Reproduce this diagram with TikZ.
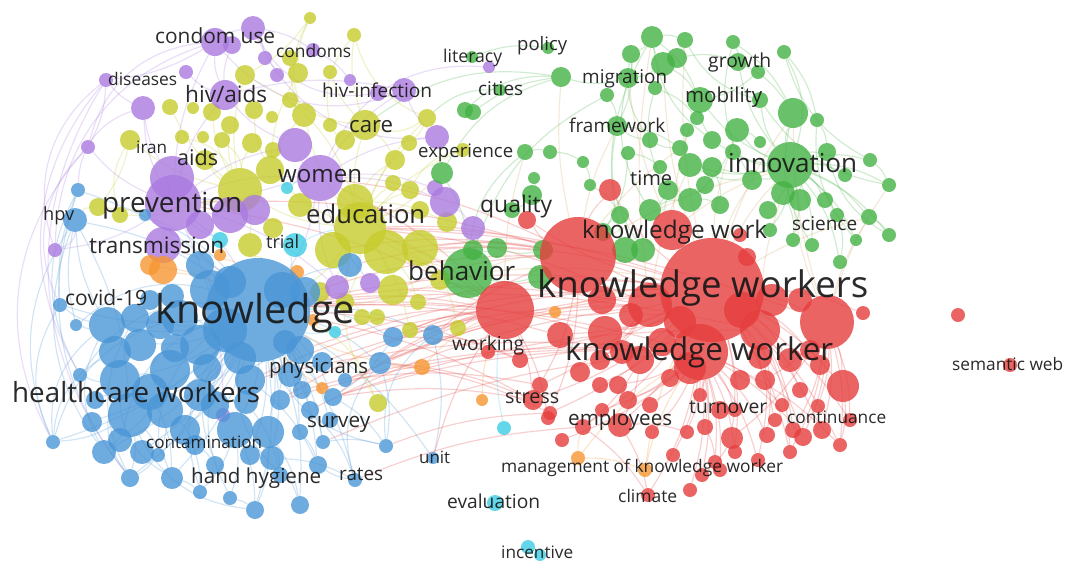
\documentclass[tikz,border=0pt]{standalone}
\usepackage{fontspec}
\setmainfont{Open Sans}
\usepackage{graphicx}
\pgfdeclarelayer{bg}
\pgfdeclarelayer{edges}
\pgfsetlayers{bg,edges,main}
\definecolor{colR}{RGB}{230,62,62}
\definecolor{colG}{RGB}{68,178,68}
\definecolor{colB}{RGB}{74,150,214}
\definecolor{colY}{RGB}{198,204,44}
\definecolor{colP}{RGB}{170,122,224}
\definecolor{colO}{RGB}{246,150,50}
\definecolor{colC}{RGB}{60,204,228}
\definecolor{colM}{RGB}{214,168,104}
\definecolor{lbc}{RGB}{24,24,24}
\tikzset{
  bub/.style={circle, inner sep=0pt, draw=none, fill opacity=0.8},
  edg/.style={line width=1.15pt, draw opacity=0.25},
  lab/.style={inner sep=0pt, text=lbc, text opacity=0.92},
}
\newcommand{\kwlabel}[5]{\node[lab,anchor=base west] (#1) at (#2,#3) {\resizebox{#4pt}{!}{#5}};}
\begin{document}
\begin{tikzpicture}[x=1pt,y=-1pt]
\begin{pgfonlayer}{bg}
\fill[white] (0,0) rectangle (1065,563);
\end{pgfonlayer}
\useasboundingbox (0,0) rectangle (1065,563);
% ---------- yellow
\foreach \n/\x/\y/\r in {ED/360/228/26,y1/310/18/6,y2/354/35/7,y3/245/75/10,y4/298/73/10,y5/330/72/7,y6/290/58/8,y7/170/107/8,y8/193/108/6,y9/212/112/9,y10/254/110/9,y11/272/117/6,y12/304/115/12,y13/330/125/7,y14/365/125/15,y15/345/140/10,y16/427/118/9,y17/130/140/10,y18/182/137/7,y19/203/137/6,y20/222/140/8,y21/252/143/10,y22/273/150/8,y23/409/143/8,y24/463/150/7,y25/240/190/22,y26/270/170/14,y27/355/202/18,y28/410/190/9,y29/393/183/8,y30/386/252/22,y31/420/248/18,y32/333/250/18,y33/250/245/12,y34/273/228/10,y35/120/215/8,y36/98/207/9,y37/393/290/15,y38/362/317/8,y39/377/317/8,y40/418/302/8,y41/458/328/8,y42/447/222/10,y43/378/403/9,y44/395/160/10,y45/300/205/12,y46/440/280/10,y47/320/292/10,y48/345/302/9,y49/410/330/8,y50/290/100/8,y51/205/160/10,y52/230/125/9,y53/420/210/9}
  {\pgfmathsetmacro{\d}{2*\r}\node[bub,fill=colY,minimum size=\d pt] (\n) at (\x,\y) {};}
% ---------- purple
\foreach \n/\x/\y/\r in {PR/173/203/28,WO/320/178/23,p1/215/42/14,p2/253/28/12,p3/232/45/9,p4/265/58/7,p5/277/75/7,p6/313/50/7,p7/186/72/7,p8/106/80/7,p9/143/108/12,p10/225/95/15,p11/350/80/6,p12/404/90/12,p13/378/93/8,p14/88/147/7,p15/295/145/17,p16/437/137/12,p17/172/178/22,p18/230/215/18,p19/255/210/15,p20/445/202/15,p21/435/188/8,p22/473/228/12,p23/163/245/18,p24/55/250/7,p25/337/287/12,p26/370/283/10,p27/223/415/7,p28/489/67/6,p29/200/225/14}
  {\pgfmathsetmacro{\d}{2*\r}\node[bub,fill=colP,minimum size=\d pt] (\n) at (\x,\y) {};}
% ---------- green
\foreach \n/\x/\y/\r in {BH/468/273/25,IN/790/165/23,g1/652/37/11,g2/685/40/8,g3/733/42/7,g4/784/52/7,g5/631/54/9,g6/663/64/12,g7/677/58/10,g8/738/62/9,g9/758/72/7,g10/628/78/10,g11/561/77/10,g12/607/95/7,g13/655/88/7,g14/700/100/13,g15/793/113/15,g16/817/120/7,g17/473/112/8,g18/548/48/6,g19/472/57/6,g20/500/90/6,g21/617/126/10,g22/697/118/7,g23/687/130/7,g24/737/130/12,g25/760/142/6,g26/733/152/8,g27/680/148/8,g28/525/152/8,g29/550/152/7,g30/583/162/6,g31/628/153/7,g32/690/165/12,g33/712/167/10,g34/660/167/7,g35/534/178/6,g36/590/185/6,g37/442/173/11,g38/827/152/9,g39/889/185/7,g40/783/193/12,g41/800/200/11,g42/825/200/8,g43/768/210/9,g44/793/240/7,g45/837/215/7,g46/869/217/8,g47/889/235/7,g48/856/240/6,g49/770/230/7,g50/650/210/11,g51/620/215/9,g52/690/200/12,g53/720/205/9,g54/532/195/10,g55/512/210/8,g56/625/250/13,g57/543/250/10,g58/497/248/10,g59/473/250/10,g60/540/277/12,g61/643/250/12,g62/465/110/8,g64/845/175/7,g65/812/245/7,g66/752/180/10,g67/712/140/9,g68/760/100/8,g69/650/140/8,g70/840/262/7,g71/870/160/7,g72/603/232/9,g73/668/190/10,g74/705/185/9}
  {\pgfmathsetmacro{\d}{2*\r}\node[bub,fill=colG,minimum size=\d pt] (\n) at (\x,\y) {};}
% ---------- orange
\foreach \n/\x/\y/\r in {o11/150/265/10,o1/163/270/14,o2/220/255/6,o3/297/272/7,o4/313/320/6,o5/322/388/6,o6/422/367/8,o7/482/400/6,o8/555/312/6,o9/578/458/7,o10/645/470/7}
  {\pgfmathsetmacro{\d}{2*\r}\node[bub,fill=colO,minimum size=\d pt] (\n) at (\x,\y) {};}
% ---------- cyan
\foreach \n/\x/\y/\r in {c1/287/188/6,c2/295/245/12,c3/220/240/8,c4/335/332/6,c5/504/428/7,c6/495/503/8,c7/528/547/7,c8/540/555/6}
  {\pgfmathsetmacro{\d}{2*\r}\node[bub,fill=colC,minimum size=\d pt] (\n) at (\x,\y) {};}
% ---------- blue
\foreach \n/\x/\y/\r in {KN/258/310/52,b1/200/265/14,b2/210/290/20,b3/180/318/18,b4/225/330/22,b5/200/345/20,b6/107/325/18,b7/135/318/14,b8/140/345/16,b9/170/370/20,b10/120/380/20,b11/130/415/22,b12/165/410/18,b13/200/395/16,b14/250/380/15,b15/280/400/10,b16/310/410/9,b17/235/430/18,b18/268/432/16,b19/272/458/12,b20/300/432/8,b21/323/442/7,b22/333/397/9,b23/345/380/7,b24/380/363/11,b25/393/337/10,b26/433/335/10,b27/386/446/7,b28/130/478/9,b29/172/478/11,b30/200/492/7,b31/230/498/7,b32/255/510/9,b33/300/505/9,b34/280/475/8,b35/318/465/9,b36/355/480/7,b37/158/455/7,b38/60/305/7,b39/76/325/6,b40/80/375/7,b41/53/442/7,b42/78/190/7,b43/75/220/12,b44/145/215/6,b45/350/265/12,b46/433/458/6,b47/120/440/12,b48/195/445/10,b49/215/465/9,b50/95/400/9,b51/300/350/14,b52/290/375/12,b53/150/300/10,b54/250/455/10,b55/115/352/16,b56/150/392/18,b57/185/430/15,b58/215/405/14,b59/240/358/16,b60/285/342/12,b61/322/362/10,b62/92/422/10,b63/104/452/12,b64/142/452/12,b65/175/348/14,b66/246/402/12,b67/302/390/9,b68/330/420/8,b69/207/368/14,b70/172/296/12,b71/230/282/16,b72/305/292/15,b73/282/290/18,b74/160/325/14}
  {\pgfmathsetmacro{\d}{2*\r}\node[bub,fill=colB,minimum size=\d pt] (\n) at (\x,\y) {};}
% ---------- red
\foreach \n/\x/\y/\r in {KWS/712/290/52,R2/578/255/38,R3/505/310/29,R4/827/322/27,R5/700/352/28,R6/650/305/22,R7/760/330/20,R8/672/230/20,r1/610/190/11,r2/527/220/9,r3/747/257/9,r4/740/235/7,r5/863/313/7,r6/560/335/13,r7/605/333/17,r8/631/315/12,r9/600/385/8,r10/618/385/9,r11/628/400/9,r12/550/413/7,r13/583/427/8,r14/620/425/12,r15/650/405/8,r16/670/378/9,r17/700/395/7,r18/705/427/8,r19/687/432/7,r20/732/438/11,r21/735/410/7,r22/765/380/10,r23/767/435/8,r24/782/405/7,r25/793/430/8,r26/803/437/9,r27/818/406/7,r28/843/386/16,r29/840/445/7,r30/790/452/7,r31/758/460/7,r32/735/452/7,r33/715/462/7,r34/702/475/7,r35/648/495/7,r36/533/400/10,r37/548/418/7,r38/488/352/7,r39/520/360/8,r40/958/315/7,r41/1010/365/7,r42/640/360/14,r43/790/360/12,r44/810/350/10,r45/740/380/10,r46/600/360/10,r47/720/470/7,r48/680/322/16,r49/742/310/18,r50/602/300/14,r51/772/300/16,r52/622/352/12,r53/760/357/12,r54/662/342/14,r55/720/410/9,r56/690/368/16,r57/580/372/10,r58/800/390/8,r59/652/432/7,r60/822/430/9,r61/775/420/7,r62/850/420/7,r63/602/410/7,r64/540/385/8,r65/562/440/7,r66/673/455/7,r67/690/490/7,r68/800/300/12,r69/820/365/10}
  {\pgfmathsetmacro{\d}{2*\r}\node[bub,fill=colR,minimum size=\d pt] (\n) at (\x,\y) {};}
% ---------- edges
\begin{pgfonlayer}{edges}
\foreach \a/\b in {KN/b1,KN/b2,KN/b3,KN/b4,KN/b5,KN/b6,KN/b7,KN/b8,KN/b9,KN/b10,KN/b11,KN/b12,KN/b13,KN/b14,KN/b15,KN/b16,KN/b17,KN/b18,KN/b19,KN/b20,KN/b21,KN/b22,KN/b24,KN/b25,KN/b26,KN/b28,KN/b29,KN/b32,KN/b33,KN/b35,KN/b36,KN/b38,KN/b41,KN/b45,KN/b46,KN/b51,KN/b52,b11/b28,b11/b41,b11/b29,b10/b40,b10/b50,b6/b38,b6/b39,b17/b30,b17/b31,b18/b32,b18/b34,b19/b33,b14/b35,b13/b37,b12/b48,b48/b49,b29/b30,b37/b28,b31/b32,b36/b35,b21/b27,b16/b36,b9/b47,b43/b11,b42/KN,b43/KN,b44/KN,KN/b62,KN/b63,KN/b64,KN/b54,KN/b57,KN/b68,b11/b63,b56/b29,b57/b30,b12/b37,b17/b32,b18/b33,b66/b34,b19/b36,b20/b35,b16/b21,b22/b27,b24/b27,b25/b22,b26/b46,b38/b42,b39/b43,b6/b43}
  \draw[edg,colB] (\a) to[bend left=12] (\b);
\foreach \a/\b in {b43/b41,b42/b40,b6/b41,KN/b27,KN/b30,KN/b31,KN/b34,KN/b37,KN/b47,KN/b49,b11/b32,b10/b29,b24/b36,b26/b27,b42/b28,b43/b63,b38/b41,b10/b28,b55/b41,b6/b63,KN/b40,KN/b39,b3/b41,b7/b28}
  \draw[edg,colB] (\a) to[bend right=28] (\b);
\foreach \a/\b in {KWS/R2,KWS/R3,KWS/R4,KWS/R5,KWS/R6,KWS/R7,KWS/R8,KWS/r1,KWS/r2,KWS/r3,KWS/r5,KWS/r6,KWS/r7,KWS/r8,KWS/r9,KWS/r12,KWS/r13,KWS/r14,KWS/r20,KWS/r22,KWS/r26,KWS/r28,KWS/r36,KWS/r38,KWS/r39,KWS/r42,KWS/r43,KWS/r44,R5/r10,R5/r11,R5/r15,R5/r16,R5/r17,R5/r18,R5/r19,R5/r21,R5/r23,R5/r24,R5/r31,R5/r32,R5/r33,R5/r34,R5/r35,R5/r47,R4/r22,R4/r25,R4/r26,R4/r27,R4/r28,R4/r29,R4/r30,R7/r23,R7/r25,R3/r36,R3/r37,R3/r38,R2/r1,R2/r2,R6/r46,r13/r35,r14/r35,R5/r59,R5/r63,R5/r65,R5/r66,R5/r67,KWS/r60,KWS/r62,KWS/r61,R4/r60,R4/r62,R7/r58,R7/r30,R7/r31,R6/r57,R6/r64,r42/r13,r42/r14,R2/r64,R2/r12,KWS/r29,KWS/r30,KWS/r32,R5/r29,R5/r26,R4/r20,r28/r29,r20/r34,r14/r19,r18/r33}
  \draw[edg,colR] (\a) to[bend left=10] (\b);
\foreach \a/\b in {KWS/KN,R3/KN,R2/KN,R3/ED,R2/ED,KWS/ED,R3/b25,R3/b26,R3/y41,R3/b24,R6/KN,R5/KN,R3/PR,R2/WO,R3/b14,R3/b22,R7/KN,R2/y31,R3/b46,r36/KN,r36/b24,R5/b22,KWS/b51,R6/b16,R5/b21,R2/y30,R3/y37,KWS/y40,R6/ED,r39/b26,r12/b27,r13/b36,KWS/b23,KWS/b24,KWS/b25,R2/b26,R5/b14,R5/b15,R7/b22,R6/b24,R3/b15,r6/KN,r7/KN,r36/b22,r38/b25,R4/ED,R2/y37,R3/y30,KWS/y31,r12/b24,r39/KN,R3/WO,R2/PR,R3/y46,R3/y49,R2/b45,R6/b61,R5/b67,r64/b23,R3/c4,R2/y32}
  \draw[edg,colR] (\a) to[bend right=9] (\b);
\foreach \a/\b in {IN/g15,IN/g24,IN/g26,IN/g32,IN/g33,IN/g38,IN/g39,IN/g40,IN/g41,IN/g42,IN/g43,IN/g44,IN/g45,IN/g46,IN/g47,IN/g48,IN/g49,IN/g64,IN/g65,IN/g14,IN/g8,g1/g2,g1/g5,g2/g7,g6/g10,g6/g14,g7/g8,g3/g8,g4/g16,g9/g14,g10/g11,g12/g21,g13/g22,g14/g22,g21/g27,g23/g27,g24/g25,g27/g32,g31/g34,g28/g29,g29/g30,g30/g36,g36/g51,g35/g54,g54/g55,g50/g52,g52/g53,g56/g61,g57/g58,g58/g59,g59/BH,g60/BH,g37/BH,g17/g11,g19/g18,g1/g14,g5/g21,g3/g15,g24/g52,g33/g53,g40/g44,IN/g66,IN/g67,IN/g68,IN/g71,IN/g70,g66/g32,g67/g14,g69/g21,g73/g50,g74/g52,g72/g51,g6/g1,g5/g10,g8/g15,g16/g38,g71/g39,g46/g47,g45/g70,R8/g73,g27/g69,g31/g72}
  \draw[edg,colG] (\a) to[bend left=14] (\b);
\foreach \a/\b in {g11/g62,g11/g37,g20/y16,g11/y14,IN/g4,g16/g48,g38/g47,g15/g65,g1/g56,g10/g50,g21/g61,g12/BH,g28/BH,g1/g67,g2/g68,g3/g66,g4/g71,g5/g69,g13/g73,g68/g39}
  \draw[edg,colG] (\a) to[bend right=22] (\b);
\foreach \a/\b in {KWS/IN,R8/IN,R2/g21,R2/IN,KWS/g15,KWS/g46,R4/g46,R4/IN,R8/g14,BH/KWS,BH/KN,BH/R2,R6/g32,R7/g40,KWS/g2,R2/g27,R4/g15,KWS/g6,R8/g10,R2/g11,KWS/g24,R6/g1,R4/g39,BH/ED,BH/WO,g37/ED,g59/y31,R3/g28,KWS/g66}
  \draw[edg,colM] (\a) to[bend left=8] (\b);
\foreach \a/\b in {ED/y25,ED/y27,ED/y30,ED/y31,ED/y32,ED/y14,ED/y12,ED/y45,ED/y28,ED/y29,ED/y37,ED/KN,ED/y23,ED/y16,ED/y24,y25/y3,y25/y7,y25/y9,y25/y17,y25/y35,y25/y36,y25/y21,y26/y12,y26/y4,y14/y5,y14/y2,y4/y1,y12/y6,y33/KN,y30/y37,y31/y41,y15/y13,y17/y36,y27/y44,y16/y23,y1/y3,y27/y42,y30/y40,y25/y33,y26/y10,ED/y46,ED/y47,ED/y48,ED/y53,y25/y51,y25/y52,y14/y50,ED/y49,y30/y46,ED/y26,y25/y26,y14/y44}
  \draw[edg,colY] (\a) to[bend left=12] (\b);
\foreach \a/\b in {y2/y13,y24/y28,y25/y18,y25/y20,ED/y43,y14/y16,ED/y38,y1/y12,y2/y16,y17/y35,ED/y3,y43/KN,y36/b43}
  \draw[edg,colY] (\a) to[bend right=24] (\b);
\foreach \a/\b in {PR/p17,PR/p18,PR/p19,PR/p23,PR/p9,PR/p10,PR/p14,PR/p24,PR/WO,WO/p15,WO/p16,WO/p20,WO/p21,WO/p12,p10/p1,p10/p3,p10/p7,p1/p2,p1/p8,p2/p4,p4/p5,p6/p11,p12/p13,p15/p10,p16/p12,p20/p22,p25/WO,p26/WO,PR/p25,p8/p14,p9/p8,PR/p27,WO/KN,PR/KN,PR/p29,p29/WO,PR/p15,p17/p9,p10/p12,p2/p6,PR/p1,p23/KN}
  \draw[edg,colP] (\a) to[bend left=12] (\b);
\foreach \a/\b in {p8/p24,p1/p24,p14/b41,p8/b28,p2/p16,p28/WO,p1/p12,p9/b42,p24/b43,p8/b40,p14/b38,p1/p14,p2/p13}
  \draw[edg,colP] (\a) to[bend right=35] (\b);
\foreach \a/\b in {o1/KN,o1/PR,o11/KN,o6/KN,o6/R3,o7/R3,o8/KWS,o9/R5,o10/R5,o9/o10,o10/KWS,o3/KN,o5/KN,o2/KN,o4/KN,o6/b24,o9/r13,o8/R3}
  \draw[edg,colO] (\a) to[bend left=10] (\b);
\foreach \a/\b in {c2/KN,c5/R3,c1/WO,c3/PR,c4/KN,c2/ED}
  \draw[edg,colC] (\a) to[bend left=10] (\b);
\end{pgfonlayer}
% ---------- labels
\kwlabel{l1}{155}{43}{120}{condom use}
\kwlabel{l2}{276}{57}{75}{condoms}
\kwlabel{l3}{108}{85}{69}{diseases}
\kwlabel{l4}{185}{102}{82}{hiv/aids}
\kwlabel{l5}{322}{97}{110}{hiv-infection}
\kwlabel{l6}{349}{132}{44}{care}
\kwlabel{l7}{136}{153}{31}{iran}
\kwlabel{l8}{177}{165}{41}{aids}
\kwlabel{l9}{418}{157}{95}{experience}
\kwlabel{l10}{278}{182}{84}{women}
\kwlabel{l11}{102}{212}{140}{prevention}
\kwlabel{l12}{43}{220}{31}{hpv}
\kwlabel{l13}{306}{223}{119}{education}
\kwlabel{l14}{89}{253}{135}{transmission}
\kwlabel{l15}{266}{248}{33}{trial}
\kwlabel{l16}{443}{62}{59}{literacy}
\kwlabel{l17}{517}{50}{50}{policy}
\kwlabel{l18}{582}{83}{85}{migration}
\kwlabel{l19}{708}{67}{63}{growth}
\kwlabel{l20}{478}{95}{45}{cities}
\kwlabel{l21}{685}{102}{77}{mobility}
\kwlabel{l22}{569}{132}{96}{framework}
\kwlabel{l23}{728}{172}{129}{innovation}
\kwlabel{l24}{630}{185}{42}{time}
\kwlabel{l25}{480}{212}{72}{quality}
\kwlabel{l26}{582}{238}{185}{knowledge work}
\kwlabel{l27}{792}{230}{65}{science}
\kwlabel{l28}{408}{280}{107}{behavior}
\kwlabel{l29}{537}{297}{331}{knowledge workers}
\kwlabel{l30}{565}{360}{268}{knowledge worker}
\kwlabel{l31}{65}{305}{82}{covid-19}
\kwlabel{l32}{155}{323}{200}{knowledge}
\kwlabel{l33}{269}{373}{99}{physicians}
\kwlabel{l34}{12}{402}{248}{healthcare workers}
\kwlabel{l35}{307}{427}{63}{survey}
\kwlabel{l36}{146}{448}{116}{contamination}
\kwlabel{l37}{191}{483}{130}{hand hygiene}
\kwlabel{l38}{339}{480}{44}{rates}
\kwlabel{l39}{419}{463}{31}{unit}
\kwlabel{l40}{452}{350}{72}{working}
\kwlabel{l41}{505}{403}{54}{stress}
\kwlabel{l42}{568}{425}{104}{employees}
\kwlabel{l43}{689}{413}{78}{turnover}
\kwlabel{l44}{787}{423}{99}{continuance}
\kwlabel{l45}{501}{472}{282}{management of knowledge worker}
\kwlabel{l46}{618}{502}{59}{climate}
\kwlabel{l47}{447}{508}{93}{evaluation}
\kwlabel{l48}{501}{558}{72}{incentive}
\kwlabel{l49}{952}{370}{111}{semantic web}
\end{tikzpicture}
\end{document}
